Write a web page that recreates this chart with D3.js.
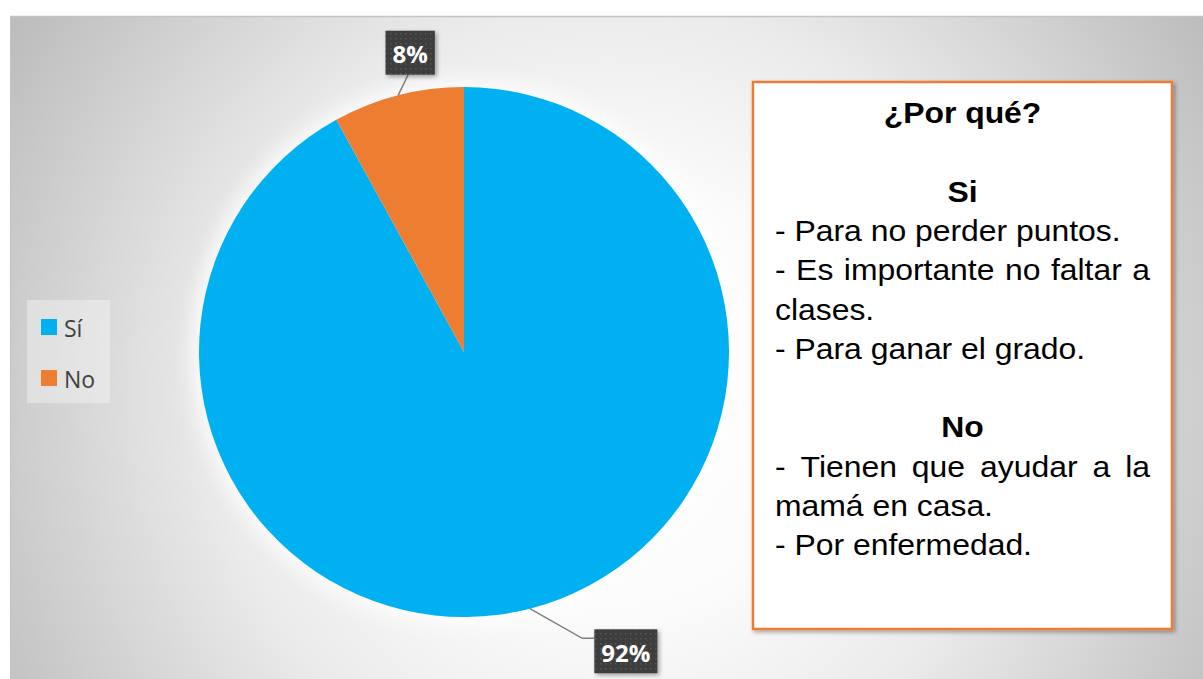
<!DOCTYPE html>
<html>
<head>
<meta charset="utf-8">
<script src="https://cdn.jsdelivr.net/npm/d3@7"></script>
<style>
  html, body { margin: 0; padding: 0; background: #fff; }
  svg { display: block; }
</style>
</head>
<body>
<svg id="chart"></svg>
<script>
// data for the pie
const categories = ["Sí", "No"];
const values = [92, 8];
const valueLabels = ["92%", "8%"];
const colors = ["#00B0F0", "#ED7D31"];

// text of the side box: [text, kind]
const boxLines = [
  ["¿Por qué?", "head"],
  ["", "blank"],
  ["Si", "head"],
  ["- Para no perder puntos.", "left"],
  ["- Es importante no faltar a", "justify"],
  ["clases.", "left"],
  ["- Para ganar el grado.", "left"],
  ["", "blank"],
  ["No", "head"],
  ["- Tienen que ayudar a la", "justify"],
  ["mamá en casa.", "left"],
  ["- Por enfermedad.", "left"]
];

// sizes
let widthSVG = 1203;
let heightSVG = 679;
let area = { left: 10, top: 16 };

let SVG = d3.select('svg#chart')
            .attr('width', widthSVG)
            .attr('height', heightSVG);

let defs = SVG.append('defs');

// background gradient
let grad = defs.append('radialGradient')
  .attr('id', 'bgGrad')
  .attr('gradientUnits', 'userSpaceOnUse')
  .attr('cx', 610).attr('cy', 400).attr('r', 720);
grad.append('stop').attr('offset', 0).attr('stop-color', '#ffffff');
grad.append('stop').attr('offset', 0.3).attr('stop-color', '#fbfbfb');
grad.append('stop').attr('offset', 0.55).attr('stop-color', '#ebebeb');
grad.append('stop').attr('offset', 1).attr('stop-color', '#bababa');

// dotted pattern for the data labels
let pat = defs.append('pattern')
  .attr('id', 'dots')
  .attr('patternUnits', 'userSpaceOnUse')
  .attr('width', 5).attr('height', 5);
pat.append('rect').attr('width', 5).attr('height', 5).attr('fill', '#3d3d3d');
pat.append('rect').attr('x', 1).attr('y', 1).attr('width', 1.5).attr('height', 1.5).attr('fill', '#575757');

// shadows
let sh = defs.append('filter').attr('id', 'shadow')
  .attr('x', '-20%').attr('y', '-20%').attr('width', '150%').attr('height', '150%');
sh.append('feDropShadow').attr('dx', 2).attr('dy', 2).attr('stdDeviation', 2)
  .attr('flood-color', '#000').attr('flood-opacity', 0.35);

let glow = defs.append('filter').attr('id', 'glow')
  .attr('x', '-30%').attr('y', '-30%').attr('width', '160%').attr('height', '160%');
glow.append('feGaussianBlur').attr('stdDeviation', 10);

// chart area
SVG.append('rect')
  .attr('x', area.left).attr('y', area.top)
  .attr('width', widthSVG - area.left).attr('height', heightSVG - area.top)
  .attr('fill', 'url(#bgGrad)');
SVG.append('line')
  .attr('x1', area.left).attr('x2', widthSVG)
  .attr('y1', area.top + 0.5).attr('y2', area.top + 0.5)
  .attr('stroke', '#c4c4c4').attr('stroke-width', 1.5);
SVG.append('line')
  .attr('x1', area.left + 0.5).attr('x2', area.left + 0.5)
  .attr('y1', area.top).attr('y2', heightSVG)
  .attr('stroke', '#c4c4c4').attr('stroke-width', 1);

// pie
let cx = 464, cy = 352, radius = 265;
let pieG = SVG.append('g').attr('transform', `translate(${cx}, ${cy})`);

pieG.append('circle').attr('r', radius + 6).attr('fill', '#ffffff')
  .attr('opacity', 0.9).attr('filter', 'url(#glow)');

let pie = d3.pie().sort(null).value(d => d);
let arcs = pie(values);
let arc = d3.arc().innerRadius(0).outerRadius(radius);

pieG.selectAll('path.slice')
  .data(arcs)
  .enter()
  .append('path')
  .attr('class', 'slice')
  .attr('d', arc)
  .attr('fill', (d, i) => colors[i]);

// data labels
let labelRadius = radius + 44;
let labelDx = [85, 23];
let labelFont = 24;

arcs.forEach((d, i) => {
  let mid = (d.startAngle + d.endAngle) / 2;
  let ex = Math.sin(mid) * radius, ey = -Math.cos(mid) * radius;
  let lx = Math.sin(mid) * labelRadius + labelDx[i];
  let ly = -Math.cos(mid) * labelRadius;

  let txt = pieG.append('text')
    .attr('x', lx).attr('y', ly + 1)
    .attr('text-anchor', 'middle')
    .attr('dominant-baseline', 'central')
    .style('font-family', '"Open Sans", sans-serif')
    .style('font-weight', 700)
    .style('font-size', labelFont + 'px')
    .style('fill', '#fff')
    .text(valueLabels[i]);
  let w = txt.node().getComputedTextLength() + 14;
  let h = 44;
  let bx = lx - w / 2, by = ly - h / 2;

  // leader line
  let pts;
  if (ey < 0) {
    pts = [[ex, ey], [lx - 2, by + h]];
  } else {
    pts = [[ex, ey], [bx - 12, by + 9], [bx, by + 9]];
  }
  pieG.insert('path', 'text')
    .attr('d', d3.line()(pts))
    .attr('fill', 'none')
    .attr('stroke', '#7f7f7f')
    .attr('stroke-width', 1.5);

  pieG.insert('rect', 'text')
    .attr('x', bx).attr('y', by)
    .attr('width', w).attr('height', h)
    .attr('fill', 'url(#dots)')
    .attr('filter', 'url(#shadow)');
});

// legend
let legendG = SVG.append('g').attr('transform', 'translate(27, 300)');
legendG.append('rect')
  .attr('width', 83).attr('height', 103)
  .attr('fill', '#ffffff').attr('opacity', 0.35);

let legItems = legendG.selectAll('g.legItem')
  .data(categories)
  .enter()
  .append('g')
  .attr('class', 'legItem')
  .attr('transform', (d, i) => `translate(14, ${27 + i * 51})`);

legItems.append('rect')
  .attr('x', 0).attr('y', -8)
  .attr('width', 16).attr('height', 16)
  .attr('fill', (d, i) => colors[i]);

legItems.append('text')
  .attr('x', 23).attr('y', 1)
  .attr('dominant-baseline', 'central')
  .style('font-family', '"Open Sans", sans-serif')
  .style('font-size', '23px')
  .style('fill', '#404040')
  .text(d => d);

// explanation box
let box = { x: 753, y: 82, w: 419, h: 547 };
SVG.append('rect')
  .attr('x', box.x).attr('y', box.y)
  .attr('width', box.w).attr('height', box.h)
  .attr('fill', '#fff')
  .attr('stroke', '#ED7D31')
  .attr('stroke-width', 2.5)
  .attr('filter', 'url(#shadow)');

// text in the box is slightly stretched horizontally
let stretch = 1.1;
let textLeft = 775, textRight = 1150;
let textMid = box.x + box.w / 2;
let firstBase = 123, lineStep = 39.3;
let boxG = SVG.append('g')
  .style('font-family', '"Liberation Sans", Arial, sans-serif')
  .style('font-size', '29px')
  .style('fill', '#000');

function putText(str, x, y, anchor, bold) {
  return boxG.append('text')
    .attr('transform', `translate(${x}, ${y}) scale(${stretch}, 1)`)
    .attr('text-anchor', anchor)
    .style('font-weight', bold ? 700 : 400)
    .text(str);
}

boxLines.forEach((l, i) => {
  let y = firstBase + i * lineStep;
  if (l[1] === 'head') {
    putText(l[0], textMid, y, 'middle', true);
  } else if (l[1] === 'left') {
    putText(l[0], textLeft, y, 'start', false);
  } else if (l[1] === 'justify') {
    let words = l[0].split(' ');
    let nodes = words.map(w => putText(w, 0, y, 'start', false));
    let widths = nodes.map(n => n.node().getComputedTextLength() * stretch);
    let gap = (textRight - textLeft - d3.sum(widths)) / (words.length - 1);
    let xPos = textLeft;
    nodes.forEach((n, j) => {
      n.attr('transform', `translate(${xPos}, ${y}) scale(${stretch}, 1)`);
      xPos += widths[j] + gap;
    });
  }
});
</script>
</body>
</html>
